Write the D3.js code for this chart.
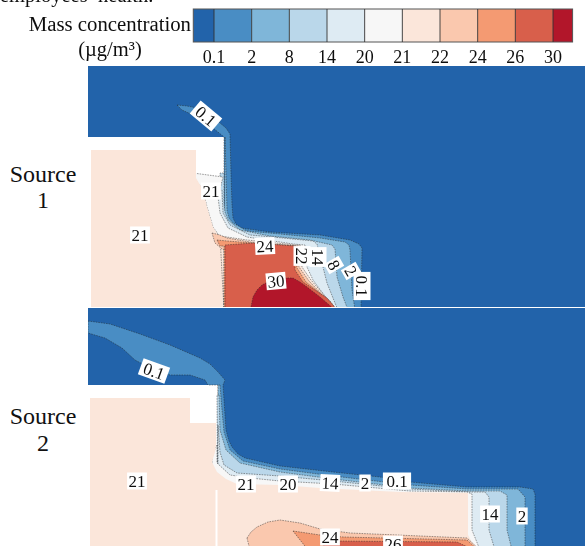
<!DOCTYPE html>
<html><head><meta charset="utf-8">
<style>html,body{margin:0;padding:0;background:#fff}svg{display:block}text{font-family:"Liberation Serif",serif;fill:#111}</style>
<script src="https://cdn.jsdelivr.net/npm/d3@7/dist/d3.min.js"></script></head><body>
<script>
const legendLevels=["0.1","2","8","14","20","21","22","24","26","30"];
const legendColors=["#2064aa","#4a8dc4","#7fb6d9","#bad7ea","#deebf3","#f7f7f7","#fbe6da","#fac8ae","#f49a72","#d85e4c","#b2182b"];
const deep="#2064aa",c2="#4a8dc4",c8="#7fb6d9",c14="#bad7ea",c20="#deebf3",c21="#f7f7f7",c22="#fbe6da",c24="#fac8ae",c26="#f49a72",c30="#d85e4c",cMax="#b2182b";

// contour bands, source 1 (plan coordinates)
const s1Band2=[[177,105],[187,106],[197,108],[210,116],[220,123],[226,128],[230,134],[231,173],[232,205],[233,218],[236,224],[241,228],[270,232],[320,235],[350,240],[359,244],[362,248],[361,310],[224,310],[224,137],[213,128],[193,115],[182,110]];
const s1Band8=[[225,137],[226,173],[227,210],[229,218],[233,223],[247,231],[280,234],[320,238],[345,242],[349,245],[350,250],[352,290],[355,310],[224,310]];
const s1Band14=[[224,173],[224,203],[225,212],[228,220],[240,230],[270,236],[310,240],[332,245],[335,249],[337,277],[343,297],[348,310],[220,310],[220,173]];
const s1Band20=[[222,190],[223,213],[230,225],[250,235],[283,238],[313,241],[317,244],[323,267],[327,283],[335,303],[338,310],[220,310],[215,190]];
const s1Band21=[[187,175],[193,173],[223,177],[218,197],[220,213],[228,228],[247,237],[293,244],[305,245],[307,267],[313,280],[330,303],[334,310],[224,310],[220,237],[213,227],[207,207],[203,190],[195,179]];
const s1Band22=[[220,236],[247,240],[296,245],[300,245],[302,267],[311,280],[331,303],[335,310],[224,310]];
const s1Band24=[[212,233],[220,235],[227,238],[250,242],[298,246],[299,267],[309,281],[332,305],[335,310],[224,310],[224,250],[222,249],[215,243]];
const s1Band26=[[217,240],[227,241],[252,243],[296,246],[297,268],[306,282],[330,301],[337,310],[224,310],[224,246],[220,246]];
const s1Band30=[[225,245],[253,243],[295,246],[295,270],[303,282],[327,298],[337,310],[225,310]];
const s1BandMax=[[250,312],[253,297],[257,290],[262,285],[270,281],[280,278],[293,278],[300,282],[307,287],[320,297],[335,310]];
const s1Wall=[[91,150],[196,150],[196,178],[203,190],[207,207],[213,227],[220,238],[224,250],[224,310],[91,310]];

// contour bands, source 2
const s2Band2=[[88,321],[110,324],[140,334],[170,345],[200,358],[210,364],[218,372],[225,380],[223,385],[224,400],[226,430],[229,441],[232,447],[238,454],[245,458],[280,466],[333,472],[380,477],[410,482],[467,487],[520,487],[533,489],[535,494],[535,550],[218,550],[218,385],[208,385],[205,380],[190,375],[170,375],[150,368],[135,360],[122,348],[105,338],[88,333]];
const s2Band8=[[220,385],[222,410],[224,432],[230,450],[243,461],[280,469],[333,476],[410,485],[467,489],[518,489],[525,497],[525,550],[218,550],[218,385]];
const s2Band14=[[219,395],[220,430],[226,450],[240,463],[280,472],[333,479],[410,488],[467,491],[500,491],[507,495],[507,530],[512,550],[218,550],[217,395]];
const s2Band20=[[218,425],[220,452],[224,465],[237,473],[280,476],[333,481],[410,489],[467,492],[485,492],[489,497],[489,530],[495,550],[218,550]];
const s2Band21=[[217,445],[217,463],[230,475],[250,478],[280,481],[333,484],[410,491],[467,492],[472,494],[472,530],[480,550],[212,550],[212,455]];
const s2Wall=[[90,398],[190,398],[190,423],[216,423],[216,445],[215,452],[212,462],[217,472],[226,479],[237,484],[280,485],[320,488],[400,492],[468,493],[468,535],[476,550],[90,550]];
const s2Band24=[[247,538],[251,532],[257,527],[268,522],[280,520],[300,523],[320,529],[350,533],[467,538],[480,550],[250,550]];
const s2Band26=[[293,531],[320,535],[343,537],[467,540],[478,550],[308,550]];
const s2Band30=[[317,550],[330,541],[457,542],[474,550]];

const s1Bands=[[s1Band2,c2],[s1Band8,c8],[s1Band14,c14],[s1Band20,c20],[s1Band21,c21],[s1Wall,c22],[s1Band22,c22],[s1Band24,c24],[s1Band26,c26],[s1Band30,c30],[s1BandMax,cMax]];
const s2Bands=[[s2Band2,c2],[s2Band8,c8],[s2Band14,c14],[s2Band20,c20],[s2Band21,c21],[s2Wall,c22],[s2Band24,c24],[s2Band26,c26],[s2Band30,c30]];

const s1Labels=[["0.1",206,116,40],["21",211,191,0],["21",140,235,0],["24",265,246,-3],["22",302,256,90],["14",318,257,90],["8",334,265,60],["2",351,271,60],["0.1",362,286,90],["30",276,281,-5]];
const s2Labels=[["0.1",154,371,20],["21",137,481,0],["21",246,484,0],["20",288,484,0],["14",330,483,3],["2",365,483,0],["0.1",397,481,0],["14",490,514,0],["2",522,516,0],["24",330,537,0],["26",393,544,0]];

const W=585,H=546;
const svg=d3.select("body").append("svg").attr("width",W).attr("height",H);
const defs=svg.append("defs");
defs.append("filter").attr("id","soft").append("feGaussianBlur").attr("stdDeviation",0.45);
defs.append("clipPath").attr("id","cp1").append("rect").attr("x",88).attr("y",66).attr("width",497).attr("height",241);
defs.append("clipPath").attr("id","cp2").append("rect").attr("x",88).attr("y",308).attr("width",497).attr("height",238);

// Legend
const lx=d3.scaleLinear().domain([0,9]).range([214,553]);
const lg=svg.append("g").attr("filter","url(#soft)");
legendColors.forEach((c,i)=>{
  const x0=lx(Math.max(i-1,-0.55)),x1=lx(Math.min(i,9.52));
  lg.append("rect").attr("x",x0).attr("y",9).attr("width",x1-x0).attr("height",33).attr("fill",c);
});
lg.append("rect").attr("x",lx(-0.55)).attr("y",9).attr("width",lx(9.52)-lx(-0.55)).attr("height",33).attr("fill","none").attr("stroke","#555").attr("stroke-width",1);
legendLevels.forEach((t,i)=>{
  lg.append("line").attr("x1",lx(i)).attr("x2",lx(i)).attr("y1",9).attr("y2",42).attr("stroke","#333").attr("stroke-width",0.9);
  lg.append("text").attr("x",lx(i)).attr("y",63).attr("text-anchor","middle").attr("font-size",18).text(t);
});
lg.append("text").attr("x",191).attr("y",31).attr("text-anchor","end").attr("font-size",20.8).text("Mass concentration");
lg.append("text").attr("x",110).attr("y",56).attr("text-anchor","middle").attr("font-size",20.5).text("(µg/m³)");
lg.append("text").attr("x",0).attr("y",2).attr("font-size",20.5).text("employees’ health.");

function panel(cp,y0,y1,whiteTop,bands,labels,extras){
  const x=d3.scaleLinear().domain([88,585]).range([88,585]);
  const y=d3.scaleLinear().domain([y0,y1]).range([y0,y1]);
  const line=d3.line().x(d=>x(d[0])).y(d=>y(d[1])).curve(d3.curveLinearClosed);
  const g=svg.append("g").attr("clip-path",`url(#${cp})`).append("g").attr("filter","url(#soft)");
  g.append("rect").attr("x",x(85)).attr("y",y(y0-3)).attr("width",x(590)-x(85)).attr("height",y(y1+3)-y(y0-3)).attr("fill",deep);
  g.append("rect").attr("x",x(85)).attr("y",y(whiteTop[1])).attr("width",x(whiteTop[0])-x(85)).attr("height",y(y1+3)-y(whiteTop[1])).attr("fill","#fff");
  g.selectAll("path.b").data(bands).join("path").attr("class","b")
    .attr("d",d=>line(d[0])).attr("fill",d=>d[1])
    .attr("stroke",d=>(d[0]===s1Wall||d[0]===s2Wall)?"none":"#222").attr("stroke-width",0.6).attr("stroke-dasharray","1.6 1").attr("stroke-opacity",0.75);
  extras(g,x,y);
  const lab=g.selectAll("g.l").data(labels).join("g").attr("class","l")
    .attr("transform",d=>`translate(${x(d[1])},${y(d[2])}) rotate(${d[3]})`);
  lab.append("rect").attr("x",d=>-(d[0].length*4.2+1.5)).attr("y",-8.5).attr("width",d=>2*(d[0].length*4.2+1.5)).attr("height",17).attr("fill","#fff");
  lab.append("text").attr("text-anchor","middle").attr("dy",6).attr("font-size",17).text(d=>d[0]);
}
panel("cp1",66,307,[224,137],s1Bands,s1Labels,()=>{});
panel("cp2",308,546,[218,385],s2Bands,s2Labels,(g,x,y)=>{
  g.append("line").attr("x1",x(216.5)).attr("x2",x(216.5)).attr("y1",y(490)).attr("y2",y(550)).attr("stroke","#fff").attr("stroke-width",2);
});

// Row captions
const rows=[["Source","1",182,208],["Source","2",424,451]];
rows.forEach(r=>{
  svg.append("text").attr("x",43).attr("y",r[2]).attr("text-anchor","middle").attr("font-size",24).text(r[0]);
  svg.append("text").attr("x",43).attr("y",r[3]).attr("text-anchor","middle").attr("font-size",24).text(r[1]);
});
</script></body></html>
